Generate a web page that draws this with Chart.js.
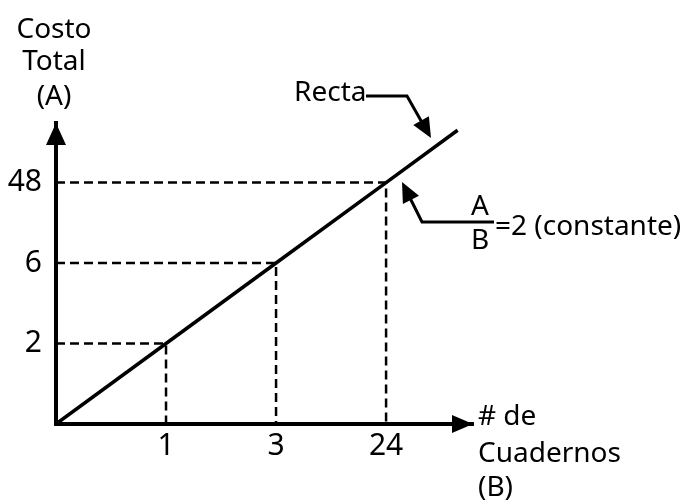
<!DOCTYPE html>
<html><head><meta charset="utf-8">
<script src="https://cdn.jsdelivr.net/npm/chart.js@4.4.0/dist/chart.umd.min.js"></script>
<style>html,body{margin:0;padding:0;background:#fff}#wrap{width:697px;height:502px;position:relative}</style>
</head><body><div id="wrap"><canvas id="c" width="697" height="502"></canvas></div>
<script>
// Data (schematic chart: A = 2 * B)
const notebooks = [1, 3, 24];          // B
const totalCost = [2, 6, 48];          // A
const xTickLabels = ['1', '3', '24'];
const yTickLabels = ['2', '6', '48'];
const xAxisTitle = ['# de', 'Cuadernos', '(B)'];
const yAxisTitle = ['Costo', 'Total', '(A)'];
const lineLabel = 'Recta';
const ratioNum = 'A', ratioDen = 'B', ratioText = '=2 (constante)';
const lineExtent = 3.65;   // schematic end of the straight line (in tick-position units)

const FONT = '"Noto Sans", sans-serif';
// schematic positions: ticks equally spaced
const pos = notebooks.map((_, i) => i + 1);

const guides = pos.map((p, i) => ({
  data: [{x: 0, y: p}, {x: p, y: p}, {x: p, y: 0}],
  showLine: true, borderColor: '#000', borderWidth: 2.5, borderDash: [9, 5],
  pointRadius: 0, fill: false, order: 2
}));

const mainLine = {
  data: [{x: 0, y: 0}, ...pos.map(p => ({x: p, y: p})), {x: lineExtent, y: lineExtent}],
  showLine: true, borderColor: '#000', borderWidth: 3.5, pointRadius: 0, fill: false, order: 1
};

function tri(ctx, pts) {
  ctx.beginPath();
  ctx.moveTo(pts[0][0], pts[0][1]);
  for (let i = 1; i < pts.length; i++) ctx.lineTo(pts[i][0], pts[i][1]);
  ctx.closePath();
  ctx.fill();
}
function arrowHead(ctx, fx, fy, tx, ty, len, half) {
  const a = Math.atan2(ty - fy, tx - fx);
  const bx = tx - len * Math.cos(a), by = ty - len * Math.sin(a);
  const nx = -Math.sin(a) * half, ny = Math.cos(a) * half;
  tri(ctx, [[tx, ty], [bx + nx, by + ny], [bx - nx, by - ny]]);
}

const deco = {
  id: 'deco',
  afterDraw(chart) {
    const {ctx, chartArea: a} = chart;
    ctx.save();
    ctx.fillStyle = '#000'; ctx.strokeStyle = '#000';
    // axis arrowheads
    tri(ctx, [[a.left, a.top], [a.left - 10, a.top + 22], [a.left + 10, a.top + 22]]);
    tri(ctx, [[a.right, a.bottom], [a.right - 21, a.bottom - 9], [a.right - 21, a.bottom + 9]]);
    // texts
    ctx.font = '28px ' + FONT;
    ctx.textBaseline = 'middle';
    ctx.textAlign = 'center';
    const yt = [30, 62, 97];
    yAxisTitle.forEach((t, i) => ctx.fillText(t, 54, yt[i]));
    ctx.textAlign = 'left';
    const xt = [417, 454, 488];
    xAxisTitle.forEach((t, i) => ctx.fillText(t, 478, xt[i]));
    // Recta label + arrow
    ctx.fillText(lineLabel, 294, 93);
    ctx.lineWidth = 3;
    ctx.beginPath();
    ctx.moveTo(366, 96); ctx.lineTo(407, 96); ctx.lineTo(424, 126);
    ctx.stroke();
    arrowHead(ctx, 407, 96, 431, 138, 20, 9);
    // ratio annotation
    ctx.beginPath();
    ctx.moveTo(494, 222); ctx.lineTo(422, 222); ctx.lineTo(408, 194);
    ctx.stroke();
    arrowHead(ctx, 422, 222, 402, 182, 20, 9);
    ctx.textAlign = 'center';
    ctx.fillText(ratioNum, 480, 207);
    ctx.fillText(ratioDen, 480, 241);
    ctx.textAlign = 'left';
    ctx.fillText(ratioText, 495, 227);
    ctx.restore();
  }
};

new Chart(document.getElementById('c'), {
  type: 'scatter',
  data: {datasets: [mainLine, ...guides]},
  options: {
    responsive: false, animation: false, events: [],
    layout: {padding: {left: 0, top: 123, right: 224, bottom: 0}},
    plugins: {legend: {display: false}, tooltip: {enabled: false}},
    scales: {
      x: {
        type: 'linear', min: 0, max: 3.79,
        grid: {display: false}, border: {display: true, width: 4, color: '#000'},
        afterBuildTicks: s => { s.ticks = pos.map(v => ({value: v})); },
        afterFit: s => { s.height = 78; },
        ticks: {color: '#000', font: {family: FONT, size: 30}, padding: -4, maxRotation: 0,
          callback: v => xTickLabels[pos.indexOf(v)]}
      },
      y: {
        type: 'linear', min: 0, max: 3.74,
        grid: {display: false}, border: {display: true, width: 4, color: '#000'},
        afterBuildTicks: s => { s.ticks = pos.map(v => ({value: v})); },
        afterFit: s => { s.width = 56; },
        ticks: {color: '#000', font: {family: FONT, size: 30}, padding: 6,
          callback: v => yTickLabels[pos.indexOf(v)]}
      }
    }
  },
  plugins: [deco]
});
</script>
</body></html>
